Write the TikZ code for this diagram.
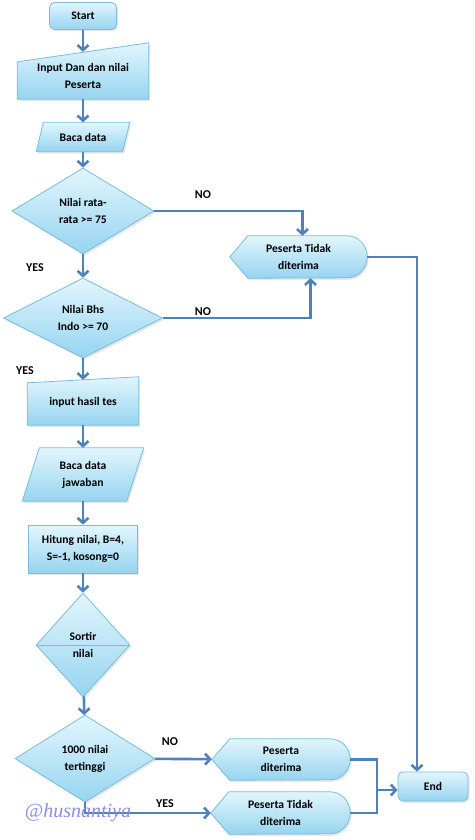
\documentclass[tikz,border=0pt]{standalone}
\usepackage{fontspec}
\setmainfont{Carlito}
\newfontfamily\markfont{Liberation Serif}
\usetikzlibrary{arrows.meta,shapes.geometric,shadows}
\definecolor{box_top}{RGB}{226,246,253}
\definecolor{box_bot}{RGB}{150,212,240}
\definecolor{box_edge}{RGB}{122,188,220}
\definecolor{line_blue}{RGB}{79,129,189}
\definecolor{mark_lila}{RGB}{140,140,228}
\pgfdeclarelayer{bg}
\pgfsetlayers{bg,main}
% manual input: node, rise at right, drop at left
\newcommand\ManIn[3]{\begin{pgfonlayer}{bg}
  \path[fillbox] (#1.south west) -- (#1.south east) -- ([yshift=#2]#1.north east)
    -- ([yshift=-#3]#1.north west) -- cycle;
  \end{pgfonlayer}}
% data: node, slant
\newcommand\ParaIn[2]{\begin{pgfonlayer}{bg}
  \path[fillbox] (#1.south west) -- ([xshift=-#2]#1.south east) -- (#1.north east)
    -- ([xshift=#2]#1.north west) -- cycle;
  \end{pgfonlayer}}
% display: node, x radius, y radius
\newcommand\DispOut[3]{\begin{pgfonlayer}{bg}
  \path[fillbox] (#1.west) -- ([xshift=18pt]#1.north west) -- ([xshift=-#2]#1.north east)
    arc[start angle=90,end angle=-90,x radius=#2,y radius=#3]
    -- ([xshift=18pt]#1.south west) -- cycle;
  \end{pgfonlayer}}

\begin{document}
\begin{tikzpicture}[x=1pt,y=-1pt,font=\fontsize{11.6}{17}\selectfont\bfseries]
    \tikzstyle{flowtag}=[text=black,font=\fontsize{12}{12}\selectfont\bfseries]
    \tikzstyle{flow}=[draw=line_blue,line width=2.6pt,-{Straight Barb[length=5pt,width=11pt]}]
    \tikzstyle{wire}=[draw=line_blue,line width=2.6pt]
    \tikzstyle{fillbox}=[top color=box_top,bottom color=box_bot,draw=box_edge,line width=0.8pt,
      drop shadow={opacity=0.18,shadow xshift=1.5pt,shadow yshift=-2pt}]
    \tikzstyle{term}=[fillbox,rectangle,rounded corners=5pt,align=center]
    \tikzstyle{proc}=[fillbox,rectangle,align=center]
    \tikzstyle{decide}=[fillbox,diamond,inner sep=0pt,align=center]
    \tikzstyle{holder}=[rectangle,inner sep=0pt,align=center]

    \useasboundingbox (0,0) rectangle (474,840);

    \node[term,minimum width=67pt,minimum height=27pt]     (start)  at (83,16)    {Start};
    \node[holder,minimum width=131pt,minimum height=47pt]  (inp)    at (83,75.5)  {Input Dan dan nilai\\Peserta};
    \node[holder,minimum width=93pt,minimum height=29pt]   (baca)   at (83,137)   {Baca data};
    \node[decide,minimum width=142pt,minimum height=86pt]  (d1)     at (83,211)   {Nilai rata-\\rata >= 75};
    \node[decide,minimum width=159pt,minimum height=80pt]  (d2)     at (83,318)   {Nilai Bhs\\Indo >= 70};
    \node[holder,minimum width=111pt,minimum height=45pt]  (hasil)  at (83,402.5) {input hasil tes};
    \node[holder,minimum width=121pt,minimum height=53pt]  (jawab)  at (83,474.5) {Baca data\\jawaban};
    \node[proc,minimum width=109pt,minimum height=48pt]    (hitung) at (83,549)   {Hitung nilai, B=4,\\S=-1, kosong=0};
    \node[decide,minimum width=94pt,minimum height=104pt]  (sortir) at (83,645)   {Sortir\\nilai};
    \node[decide,minimum width=140pt,minimum height=87pt]  (d3)     at (85,758.5) {1000 nilai\\tertinggi};
    \node[holder,minimum width=137pt,minimum height=42pt]  (ptd1)   at (298.5,257) {Peserta Tidak\\diterima};
    \node[holder,minimum width=138pt,minimum height=41pt]  (pd)     at (281,759.5) {Peserta\\diterima};
    \node[holder,minimum width=139pt,minimum height=42pt]  (ptd2)   at (280.5,813) {Peserta Tidak\\diterima};
    \node[term,minimum width=70pt,minimum height=29pt]     (end)    at (433,786.5) {End};

    \ManIn{inp}{9pt}{10pt}
    \ParaIn{baca}{7pt}
    \ManIn{hasil}{3pt}{3pt}
    \ParaIn{jawab}{17pt}
    \DispOut{ptd1}{20pt}{21pt}
    \DispOut{pd}{20pt}{20.5pt}
    \DispOut{ptd2}{20pt}{21pt}
    \draw[draw=box_edge,line width=0.8pt] (sortir.west) -- (sortir.east);

    \node[flowtag] (no1)  at (203,195) {NO};
    \node[flowtag] (yes1) at (35,268)  {YES};
    \node[flowtag] (no2)  at (203,312) {NO};
    \node[flowtag] (yes2) at (25,371)  {YES};
    \node[flowtag] (no3)  at (170,742) {NO};
    \node[flowtag] (yes3) at (165,804) {YES};

    \path[flow]
     (start) edge (inp)
     (inp) edge (baca)
     (baca) edge (d1)
     (d1) edge (d2)
     (d2) edge (hasil)
     (hasil) edge (jawab)
     (jawab) edge (hitung)
     (hitung) edge (sortir)
     (sortir) edge (d3)
     (d3) edge (pd);
    \draw[flow] (d1.east) -| ([xshift=4pt]ptd1.north);
    \draw[flow] (d2.east) -| ([xshift=12pt]ptd1.south);
    \draw[flow] (ptd1.east) -| ([xshift=-16pt]end.north);
    \draw[flow] (d3.south) |- (ptd2.west);
    \coordinate (join) at (377,790);
    \draw[wire] (pd.east) -| (join);
    \draw[wire] (ptd2.east) -| (join);
    \draw[flow] (join) -- (join -| end.west);

    \node[text=mark_lila,font=\markfont\itshape\fontsize{20}{20}\selectfont] (mark) at (78,813) {@husnantiya};
\end{tikzpicture}
\end{document}
